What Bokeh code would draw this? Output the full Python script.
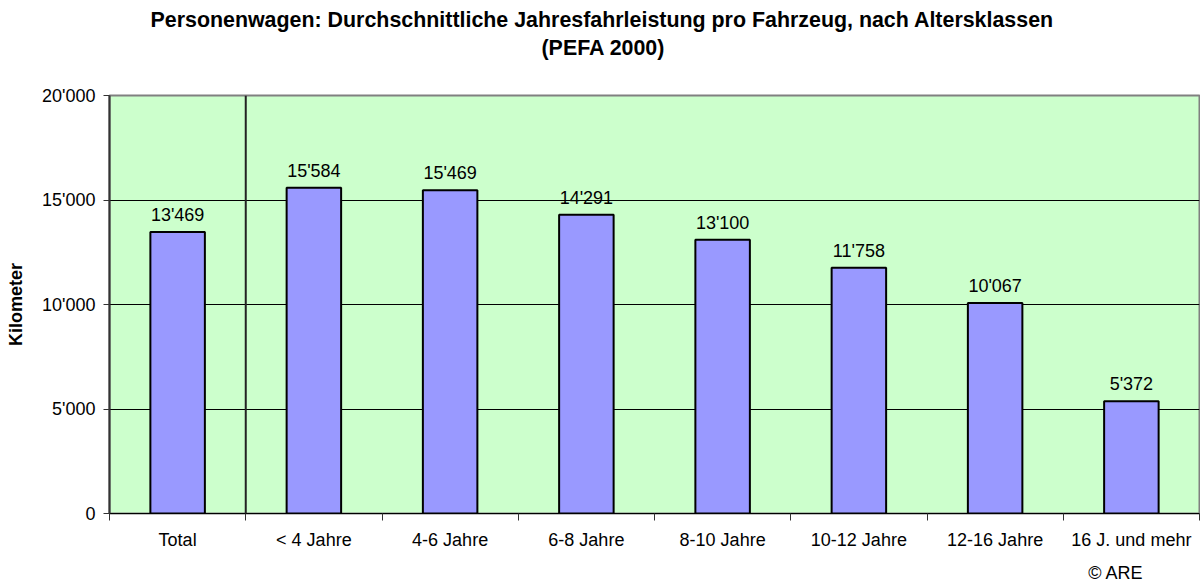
from bokeh.plotting import figure
from bokeh.models import ColumnDataSource, FixedTicker, Span, Range1d, Title
from bokeh.core.properties import value
from bokeh.embed import file_html
from bokeh.resources import INLINE

# ---- data ----
title_lines = ["Personenwagen: Durchschnittliche Jahresfahrleistung pro Fahrzeug, nach Altersklassen",
               "(PEFA 2000)"]
categories = ["Total", "< 4 Jahre", "4-6 Jahre", "6-8 Jahre", "8-10 Jahre",
              "10-12 Jahre", "12-16 Jahre", "16 J. und mehr"]
km_values = [13469, 15584, 15469, 14291, 13100, 11758, 10067, 5372]
y_ticks = [0, 5000, 10000, 15000, 20000]
y_label = "Kilometer"
source_note = "© ARE"


def fmt(v):
    return f"{v:,}".replace(",", "'")


FONT = "Liberation Sans"
n = len(categories)
centers = [i + 0.5 for i in range(n)]
bounds = list(range(n + 1))

src = ColumnDataSource(dict(x=centers, top=km_values,
                            lbl=[fmt(v) for v in km_values]))

p = figure(width=1200, height=584, output_backend="svg", toolbar_location=None,
           x_range=Range1d(0, n), y_range=Range1d(y_ticks[0], y_ticks[-1]),
           min_border_left=109, min_border_right=1, min_border_top=95,
           min_border_bottom=71)
p.background_fill_color = "#CCFFCC"
p.border_fill_color = "white"
p.outline_line_color = "#808080"
p.outline_line_width = 2

p.vbar(x="x", top="top", width=0.4, source=src, fill_color="#9999FF",
       line_color="black", line_width=2)

p.text(x="x", y="top", text="lbl", source=src, text_align="center",
       text_baseline="bottom", y_offset=-7,
       text_font=value(FONT), text_font_size="18px", text_color="black")

# separator after "Total"
p.add_layout(Span(location=1, dimension="height", line_color="#222222",
                  line_width=2))

# grid
p.xgrid.visible = False
p.ygrid.ticker = FixedTicker(ticks=y_ticks[1:-1])
p.ygrid.grid_line_color = "black"
p.ygrid.grid_line_width = 1

# y axis
ya = p.yaxis[0]
ya.ticker = FixedTicker(ticks=y_ticks)
ya.major_label_overrides = {t: fmt(t) for t in y_ticks}
ya.major_label_text_font = FONT
ya.major_label_text_font_size = "18px"
ya.major_label_text_color = "black"
ya.major_tick_out = 6
ya.major_tick_in = 0
ya.minor_tick_out = 0
ya.minor_tick_in = 0
ya.major_label_standoff = 8
ya.axis_line_color = "#333333"
ya.axis_line_width = 2
ya.major_tick_line_color = "#333333"
ya.axis_label = y_label
ya.axis_label_text_font = FONT
ya.axis_label_text_font_size = "18px"
ya.axis_label_text_font_style = "bold"
ya.axis_label_text_color = "black"
ya.axis_label_standoff = 13

# x axis
xa = p.xaxis[0]
xa.ticker = FixedTicker(ticks=centers, minor_ticks=bounds)
xa.major_label_overrides = {c: lab for c, lab in zip(centers, categories)}
xa.major_label_text_font = FONT
xa.major_label_text_font_size = "18px"
xa.major_label_text_color = "black"
xa.major_tick_out = 0
xa.major_tick_in = 0
xa.minor_tick_out = 7
xa.minor_tick_in = 0
xa.minor_tick_line_color = "#333333"
xa.major_label_standoff = 9
xa.axis_line_color = "black"
xa.axis_line_width = 1

# titles: spacer nearest the frame, then line 2, then line 1
p.add_layout(Title(text=" ", standoff=31, text_font=FONT,
                   text_font_size="1px", text_color="white"), "above")
p.add_layout(Title(text=title_lines[1], align="left", offset=432, standoff=4,
                   text_font=FONT, text_font_size="21.4px",
                   text_font_style="bold", text_color="black"), "above")
p.add_layout(Title(text=title_lines[0], align="left", offset=41, standoff=0,
                   text_font=FONT, text_font_size="21.4px",
                   text_font_style="bold", text_color="black"), "above")
p.add_layout(Title(text="\n" + source_note, align="right", offset=56, standoff=-23,
                   text_font=FONT, text_font_size="18px",
                   text_font_style="normal", text_color="black"), "below")

open("out.html", "w").write(file_html(p, INLINE))
